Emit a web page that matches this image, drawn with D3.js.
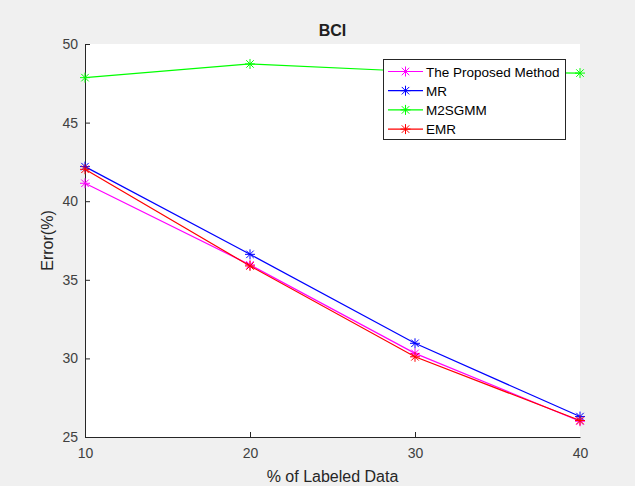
<!DOCTYPE html>
<html><head><meta charset="utf-8">
<script src="https://cdn.jsdelivr.net/npm/d3@7"></script>
<style>body{margin:0;background:#f0f0f0;}svg{display:block;font-family:"Liberation Sans",Arial,sans-serif;}</style>
</head><body><svg id="c" width="635" height="486"></svg>
<script>
const xValues = [10, 20, 30, 40];
const seriesNames = ["The Proposed Method", "MR", "M2SGMM", "EMR"];
const proposed = [41.14, 35.95, 30.32, 26.0];
const mr = [42.2, 36.62, 30.96, 26.3];
const m2sgmm = [47.86, 48.73, 48.25, 48.15];
const emr = [42.03, 35.88, 30.1, 26.05];
const colors = ["#ff00ff", "#0000ff", "#00ff00", "#ff0000"];
const xTicks = [10, 20, 30, 40];
const yTicks = [25, 30, 35, 40, 45, 50];

const series = [proposed, mr, m2sgmm, emr];
const svg = d3.select("#c");
const L = 85, R = 580, T = 44, B = 437;
const x = d3.scaleLinear().domain([10, 40]).range([L, R]);
const y = d3.scaleLinear().domain([25, 50]).range([B, T]);

svg.append("rect").attr("x", L).attr("y", T).attr("width", R - L).attr("height", B - T).attr("fill", "#fff");

const xa = svg.append("g").attr("transform", `translate(0,${B})`)
  .call(d3.axisBottom(x).tickValues(xTicks).tickSizeInner(-5).tickSizeOuter(0).tickPadding(11));
const ya = svg.append("g").attr("transform", `translate(${L},0)`)
  .call(d3.axisLeft(y).tickValues(yTicks).tickSizeInner(-5).tickSizeOuter(0).tickPadding(7));
[xa, ya].forEach(a => {
  a.select(".domain").attr("stroke", "#262626");
  a.selectAll(".tick line").attr("stroke", "#262626");
  a.selectAll("text").attr("fill", "#404040").attr("font-size", 14);
});
xa.selectAll(".tick").filter(d => d === 10 || d === 40).select("line").remove();

const line = d3.line().x((d, i) => x(xValues[i])).y(d => y(d));
function star(g, cx, cy, r, c) {
  const d = r * 0.75;
  const p = `M${cx - r},${cy}L${cx + r},${cy}M${cx},${cy - r}L${cx},${cy + r}M${cx - d},${cy - d}L${cx + d},${cy + d}M${cx - d},${cy + d}L${cx + d},${cy - d}`;
  g.append("path").attr("d", p).attr("stroke", c).attr("stroke-width", 1).attr("fill", "none");
}
series.forEach((s, k) => {
  const g = svg.append("g");
  g.append("path").datum(s).attr("d", line).attr("fill", "none").attr("stroke", colors[k]).attr("stroke-width", 1.2);
  s.forEach((v, i) => star(g, x(xValues[i]), y(v), 5, colors[k]));
});

svg.append("text").attr("x", (L + R) / 2).attr("y", 36).attr("text-anchor", "middle")
  .attr("font-size", 16).attr("font-weight", "bold").attr("fill", "#202020").text("BCI");
svg.append("text").attr("x", (L + R) / 2).attr("y", 482).attr("text-anchor", "middle")
  .attr("font-size", 16).attr("fill", "#262626").text("% of Labeled Data");
svg.append("text").attr("transform", `translate(53,${(T + B) / 2}) rotate(-90)`).attr("text-anchor", "middle")
  .attr("font-size", 16).attr("fill", "#262626").text("Error(%)");

const lg = svg.append("g");
lg.append("rect").attr("x", 383.5).attr("y", 59.5).attr("width", 182).attr("height", 80)
  .attr("fill", "#fff").attr("stroke", "#262626").attr("stroke-width", 1);
seriesNames.forEach((n, k) => {
  const yy = 71.5 + k * 19.2;
  lg.append("line").attr("x1", 388).attr("x2", 423).attr("y1", yy).attr("y2", yy).attr("stroke", colors[k]).attr("stroke-width", 1.2);
  star(lg, 405.5, yy, 5, colors[k]);
  lg.append("text").attr("x", 426).attr("y", yy + 5).attr("font-size", 13.5).attr("fill", "#000").text(n);
});
</script></body></html>
